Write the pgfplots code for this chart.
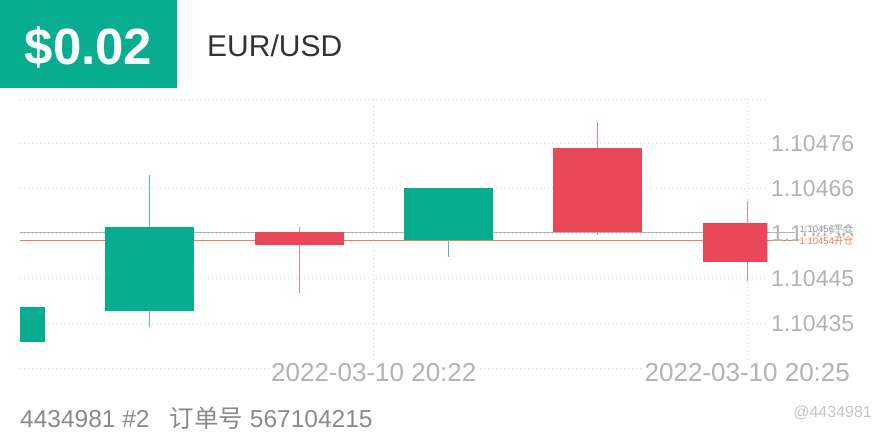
\documentclass[border=0pt]{standalone}
\usepackage{pgfplots}
\pgfplotsset{compat=1.18}
\usepackage{pgfplotstable}
\usepackage{fontspec}
\setmainfont{Liberation Sans}
\newfontfamily\cjk{Noto Sans CJK SC}
\definecolor{upc}{HTML}{07AD8E}
\definecolor{downc}{HTML}{E84857}
\definecolor{upwick}{HTML}{4CC2AB}
\definecolor{downwick}{HTML}{EC7F8A}
\definecolor{orangec}{HTML}{EC8050}
\definecolor{glinec}{HTML}{B4B4B4}
\definecolor{gridc}{HTML}{DADADA}
\definecolor{ticktext}{HTML}{B3B3B3}
\definecolor{titletext}{HTML}{333333}
\definecolor{foottext}{HTML}{8A8A8A}

% prices as pips above 1.10400 (price = 1.104 + value/100000)
% up candles: bot = open, top = close
\pgfplotstableread{
x lo hi bot top
0 30.56 38.57 30.56 38.57
1 33.85 68.74 37.66 56.76
3 50.03 65.69 53.85 65.69
}\upcandles
% down candles: top = open, bot = close
\pgfplotstableread{
x lo hi bot top
2 41.64 56.76 52.77 55.75
4 55.00 80.81 55.75 74.85
5 44.53 62.78 48.74 57.81
}\downcandles

\begin{document}
\begin{tikzpicture}[x=1pt,y=1pt]
\useasboundingbox (0,0) rectangle (880,440);
% header
\fill[upc] (0,352) rectangle (177,440);
\node[anchor=base, text=white, inner sep=0pt, font=\bfseries\fontsize{51}{51}\selectfont] at (88.5,375) {\$0.02};
\node[anchor=base west, text=titletext, inner sep=0pt, font=\fontsize{30}{30}\selectfont] at (207,383) {EUR/USD};

% reference lines (behind candles)
\begin{axis}[
  at={(20pt,71.7pt)}, anchor=south west, scale only axis,
  width=775pt, height=269pt,
  xmin=0, xmax=1, ymin=24.46, ymax=86.08,
  hide axis, clip=false]
\addplot[glinec, line width=0.9pt] coordinates {(0,55.68) (1,55.68)};
\addplot[orangec, line width=1pt] coordinates {(0,53.69) (1,53.69)};
\coordinate (closelab) at (axis cs:1,55.68);
\coordinate (openlab) at (axis cs:1,53.69);
\end{axis}

% main chart
\begin{axis}[
  at={(20pt,71.7pt)}, anchor=south west, scale only axis,
  width=747.3pt, height=269pt,
  xmin=0.1319, xmax=5.134, ymin=24.46, ymax=86.08,
  axis line style={draw=none},
  major tick length=0pt,
  grid=major,
  major grid style={draw=gridc, line width=1.3pt, dash pattern=on 1.3pt off 2.7pt},
  xtick={2.5,5},
  xticklabels={2022-03-10 20:22, 2022-03-10 20:25},
  xticklabel style={anchor=center, yshift=-4pt, fill=white, inner sep=1pt,
    text=ticktext, font=\fontsize{26}{26}\selectfont},
  ytick={86.08,76.0,65.69,55.39,45.08,34.77,24.46},
  yticklabels={,1.10476,1.10466,1.10456,1.10445,1.10435,},
  yticklabel pos=right,
  yticklabel style={anchor=west, inner sep=0pt, xshift=3.5pt,
    text=ticktext, font=\fontsize{23}{23}\selectfont},
  /pgf/number format/assume math mode=true,
  unbounded coords=jump,
]
% wicks (low -- high)
\addplot[upwick, line width=1.1pt, forget plot]
  coordinates {(1,33.85) (1,68.74) (nan,nan) (3,50.03) (3,65.69)};
\addplot[downwick, line width=1.1pt, forget plot]
  coordinates {(2,41.64) (2,56.76) (nan,nan) (4,55.00) (4,80.81) (nan,nan) (5,44.53) (5,62.78)};
% bodies (open -- close)
\addplot[draw=none, mark=none, forget plot,
  error bars/.cd, y dir=plus, y explicit, error mark=none,
  error bar style={solid, color=upc, line width=89pt, line cap=butt}]
  table[x=x, y=bot, y error expr=\thisrow{top}-\thisrow{bot}] {\upcandles};
\addplot[draw=none, mark=none, forget plot,
  error bars/.cd, y dir=plus, y explicit, error mark=none,
  error bar style={solid, color=downc, line width=89pt, line cap=butt}]
  table[x=x, y=bot, y error expr=\thisrow{top}-\thisrow{bot}] {\downcandles};
\end{axis}

% reference line labels
\node[anchor=west, xshift=4pt, yshift=3.5pt, inner sep=0.5pt, fill=white, fill opacity=0.6, text opacity=1,
  text=glinec!85!black, font=\fontsize{9.5}{9.5}\selectfont] at (closelab) {1.10456{\cjk 平仓}};
\node[anchor=west, xshift=4pt, inner sep=0.5pt, fill=white, fill opacity=0.75, text opacity=1,
  text=orangec, font=\fontsize{9.5}{9.5}\selectfont] at (openlab) {1.10454{\cjk 开仓}};

% footer
\node[anchor=base west, inner sep=0pt, text=foottext, font=\fontsize{24.5}{24.5}\selectfont] at (20,13)
  {4434981 \#2\hspace{20pt}{\cjk 订单号} 567104215};
\node[anchor=base east, inner sep=0pt, text=gridc!90!black, font=\fontsize{16}{16}\selectfont] at (872,23)
  {@4434981};
\end{tikzpicture}
\end{document}
